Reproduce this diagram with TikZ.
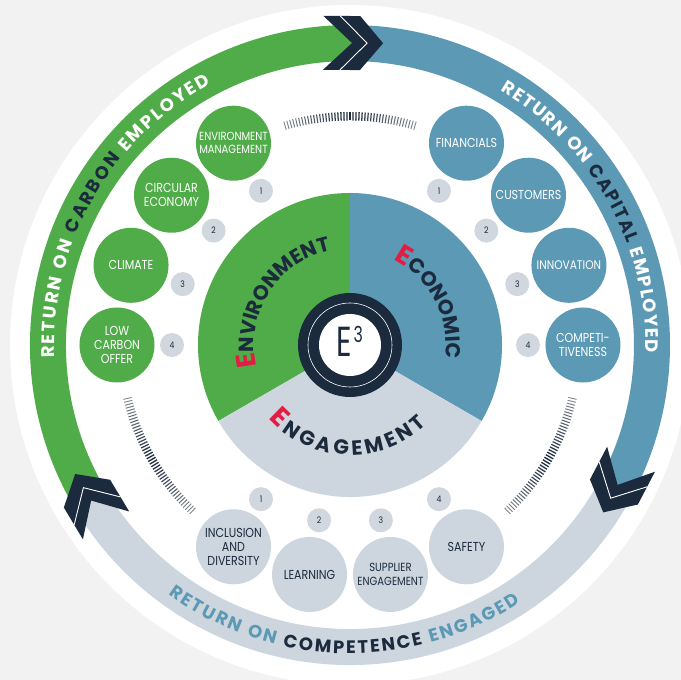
\documentclass[tikz,border=0pt]{standalone}
\usepackage{fontspec}
\setmainfont{Poppins}
\newfontfamily\labfont[FakeStretch=0.85]{Poppins}
\newfontfamily\eefont[FakeStretch=0.72]{Poppins}
\usetikzlibrary{decorations.text}
\definecolor{bg}{RGB}{242,242,242}
\definecolor{cgreen}{RGB}{80,172,72}
\definecolor{cblue}{RGB}{91,153,180}
\definecolor{cgrey}{RGB}{205,214,222}
\definecolor{cnavy}{RGB}{27,42,61}
\definecolor{cnum}{RGB}{208,215,222}
\definecolor{cred}{RGB}{228,28,68}
\newcommand\bandfont{\bfseries\fontsize{18}{18}\selectfont}
\newcommand\piebig{\bfseries\fontsize{27}{27}\selectfont\color{cred}}
\newcommand\piesmall{\bfseries\fontsize{20.5}{20.5}\selectfont\color{cnavy}}
\begin{document}
\begin{tikzpicture}[x=1pt,y=1pt,
  band/.style={line width=36pt},
  bubble/.style={circle, minimum size=75pt, inner sep=0pt, align=center,
    font=\labfont\fontsize{13}{14}\selectfont},
  gbub/.style={bubble, fill=cgreen, text=white},
  bbub/.style={bubble, fill=cblue, text=white},
  ybub/.style={bubble, fill=cgrey, text=cnavy},
  numc/.style={circle, fill=cnum, minimum size=24pt, inner sep=0pt, text=cnavy,
    font=\labfont\fontsize{9}{9}\selectfont},
  bandtext/.style={decorate, decoration={text along path, text align=fit to path, text={#1}}},
]
\fill[bg] (-350,-335) rectangle (331,345);
\useasboundingbox (-350,-335) rectangle (331,345);
\fill[white] (0,0) circle (340);

% bands
\draw[band, cgreen] (211:302) arc[start angle=211, end angle=89.6, radius=302];
\draw[band, cblue] (89.6:302) arc[start angle=89.6, end angle=-27.6, radius=302];
\draw[band, cgrey] (-27.6:302) arc[start angle=-27.6, end angle=-149, radius=302];

% chevrons
\foreach \a in {89.6,-27.6,211}{
  \begin{scope}[shift={(\a:302)}, rotate=\a-90]
    \fill[cnavy] (-29,27)--(8,27)--(31,0)--(8,-27)--(-29,-27)--(0,0)--cycle;
    \draw[white, line width=0.9pt] (-12,27)--(15,0)--(-12,-27);
  \end{scope}
}

% band texts
\path[bandtext={|\bandfont\color{white}|RETURN ON |\bandfont\color{cnavy}|CARBON |\bandfont\color{white}|EMPLOYED}]
  (182.5:295.5) arc[start angle=182.5, end angle=118, radius=295.5];
\path[bandtext={|\bandfont\color{white}|RETURN ON |\bandfont\color{cnavy}|CAPITAL |\bandfont\color{white}|EMPLOYED}]
  (59.5:295.5) arc[start angle=59.5, end angle=-1.5, radius=295.5];
\path[bandtext={|\bandfont\color{cblue}|RETURN ON |\bandfont\color{cnavy}|COMPETENCE |\bandfont\color{cblue}|ENGAGED}]
  (234:308.5) arc[start angle=234, end angle=303.5, radius=308.5];

% ticks
\foreach \c in {90,210,330}{
  \foreach \i in {-22,...,22}{
    \pgfmathsetmacro\ang{\c+\i*0.75}
    \pgfmathsetmacro\shade{100-2*abs(\i)}
    \pgfmathsetmacro\lw{1.35-0.02*abs(\i)}
    \draw[cnavy!\shade!white, line width=\lw pt] (\ang:224.5) -- (\ang:233);
  }
}

% pie
\fill[cgreen] (0,0) -- (90:152) arc[start angle=90, end angle=210, radius=152] -- cycle;
\fill[cblue] (0,0) -- (-30:152) arc[start angle=-30, end angle=90, radius=152] -- cycle;
\fill[cgrey] (0,0) -- (210:152) arc[start angle=210, end angle=330, radius=152] -- cycle;

\path[bandtext={|\piebig|E|\piesmall|NVIRONMENT}]
  (193:96) arc[start angle=193, end angle=105, radius=96];
\path[bandtext={|\piebig|E|\piesmall|CONOMIC}]
  (63:96) arc[start angle=63, end angle=-8, radius=96];
\path[bandtext={|\piebig|E|\piesmall|NGAGEMENT}]
  (222:110) arc[start angle=222, end angle=314, radius=110];

% centre
\fill[cnavy] (0,0) circle (52);
\draw[white, line width=0.6pt] (0,0) circle (42);
\fill[white] (0,0) circle (31);
\node[anchor=base, inner sep=0pt, text=cnavy, font=\eefont\fontsize{42}{42}\selectfont] (eE) at (-6,-12) {E};
\node[anchor=base west, inner sep=0pt, text=cnavy, font=\eefont\fontsize{22}{22}\selectfont] (e3) at (3.5,2) {3};

% bubbles
\node[gbub, font=\labfont\fontsize{11.8}{13}\selectfont] (g1) at (120:233) {ENVIRONMENT\\MANAGEMENT};
\node[gbub] (g2) at (140:233) {CIRCULAR\\ECONOMY};
\node[gbub] (g3) at (160:233) {CLIMATE};
\node[gbub] (g4) at (180:233) {LOW\\CARBON\\OFFER};
\node[bbub] (b1) at (60:233) {FINANCIALS};
\node[bbub] (b2) at (40:233) {CUSTOMERS};
\node[bbub, font=\labfont\fontsize{12.5}{14}\selectfont] (b3) at (20:233) {INNOVATION};
\node[bbub] (b4) at (0:233) {COMPETI-\\TIVENESS};
\node[ybub] (y1) at (240:233) {INCLUSION\\AND\\DIVERSITY};
\node[ybub] (y2) at (260:233) {LEARNING};
\node[ybub, font=\labfont\fontsize{11.8}{14}\selectfont] (y3) at (280:233) {SUPPLIER\\ENGAGEMENT};
\node[ybub] (y4) at (300:233) {SAFETY};

% numbers
\foreach \n/\a in {1/120,2/140,3/160,4/180}{\node[numc] (ng\n) at (\a:178) {\n};}
\foreach \n/\a in {1/60,2/40,3/20,4/0}{\node[numc] (nb\n) at (\a:178) {\n};}
\foreach \n/\a in {1/240,2/260,3/280,4/300}{\node[numc] (ny\n) at (\a:178) {\n};}
\end{tikzpicture}
\end{document}
